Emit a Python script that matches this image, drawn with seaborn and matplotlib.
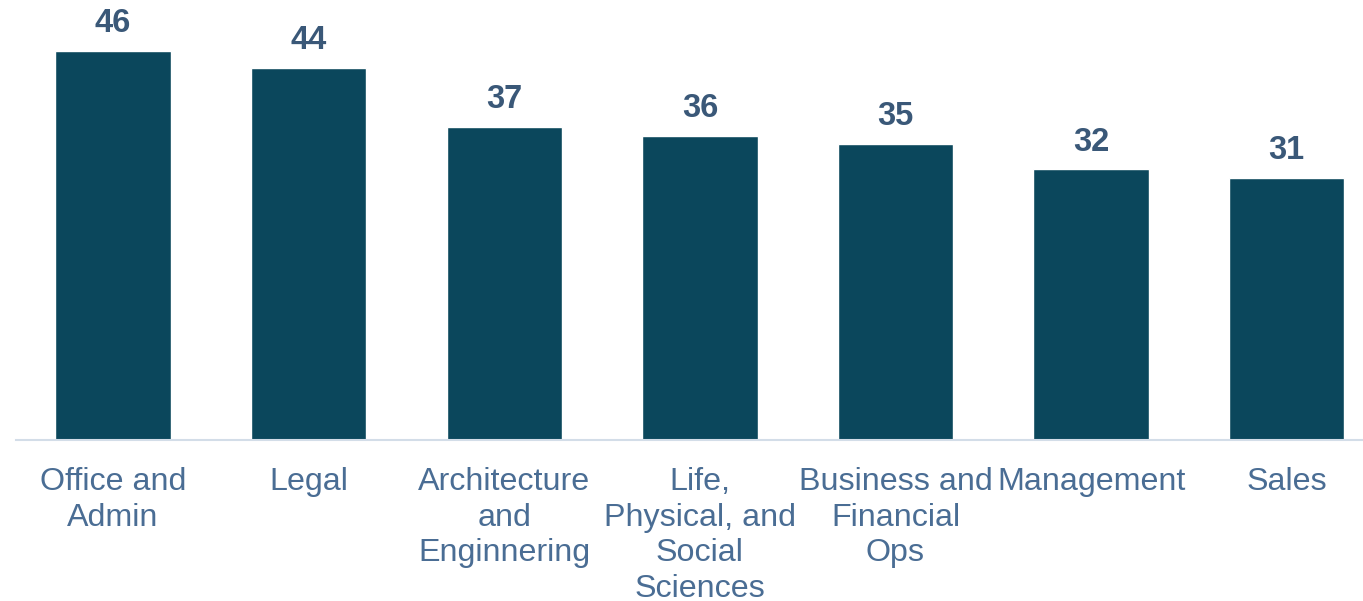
import matplotlib
matplotlib.use("Agg")
import matplotlib.pyplot as plt
import seaborn as sns
import pandas as pd

categories = [
    "Office and\nAdmin",
    "Legal",
    "Architecture\nand\nEnginnering",
    "Life,\nPhysical, and\nSocial\nSciences",
    "Business and\nFinancial\nOps",
    "Management",
    "Sales",
]
values = [46, 44, 37, 36, 35, 32, 31]

sns.set_theme(style="white")
plt.rcParams["font.family"] = ["Liberation Sans", "DejaVu Sans"]

bar_color = "#0b475c"
value_color = "#3a5878"
tick_color = "#4a6d94"
axis_color = "#d3dde8"

df = pd.DataFrame({"category": categories, "value": values})

fig = plt.figure(figsize=(13.63, 6.01), dpi=100)
ax = fig.add_axes([16 / 1363, 1 - 440 / 601, (1363 - 16) / 1363, 440 / 601])

sns.barplot(data=df, x="category", y="value", color=bar_color,
            width=0.59, saturation=1, ax=ax)

ax.set_xlim(-0.496, 6.39)
ax.set_ylim(0, 52.03)
ax.set_xlabel("")
ax.set_ylabel("")
ax.set_yticks([])

for side in ["top", "right", "left"]:
    ax.spines[side].set_visible(False)
ax.spines["bottom"].set_color(axis_color)
ax.spines["bottom"].set_linewidth(1.5)

ax.tick_params(axis="x", length=0, pad=19.5, labelsize=23.2, labelcolor=tick_color)
for lbl in ax.get_xticklabels():
    lbl.set_linespacing(1.24)

for i, v in enumerate(values):
    ax.annotate(f"{v}", xy=(i, v), xytext=(0, 13.5), textcoords="offset points",
                ha="center", va="baseline", fontsize=23.5, fontweight="bold",
                color=value_color, annotation_clip=False)

fig.savefig("out.png", dpi=100)
